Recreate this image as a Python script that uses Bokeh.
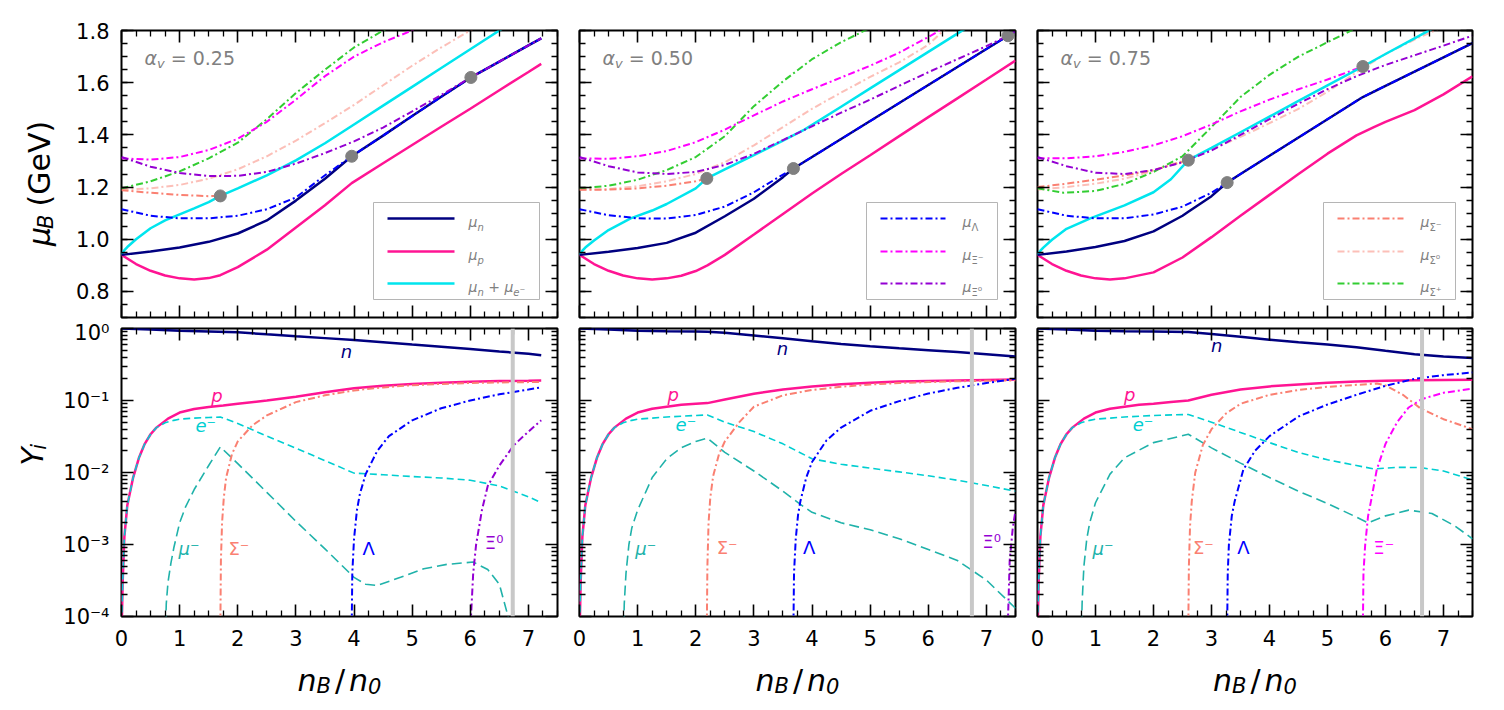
import numpy as np
from bokeh.plotting import figure
from bokeh.models import (Range1d, LinearAxis, LogAxis, Label, FixedTicker,
                          PrintfTickFormatter, CustomJSTickFormatter, Span,
                          CustomLabelingPolicy)
from bokeh.layouts import column, row
from bokeh.embed import file_html
from bokeh.resources import INLINE

# ------------------------------------------------------------------ data
alpha_v = ["0.25", "0.50", "0.75"]
x_ticks = [0, 1, 2, 3, 4, 5, 6, 7]
mu_ticks = [0.8, 1.0, 1.2, 1.4, 1.6, 1.8]
y_ticks = [1e-4, 1e-3, 1e-2, 1e-1, 1.0]

# ---- alpha_v = 0.25 : chemical potentials (GeV)
mun_x_a = [0, 0.5, 1, 1.5, 2, 2.5, 3, 3.5, 3.96, 4.5, 5, 5.5, 6.01, 6.5, 7, 7.22]
mun_y_a = [0.94, 0.953, 0.968, 0.99, 1.022, 1.072, 1.148, 1.232, 1.318, 1.397, 1.472, 1.546, 1.62, 1.681, 1.743, 1.77]
mup_x_a = [0, 0.25, 0.5, 0.75, 1, 1.25, 1.5, 1.7, 2, 2.5, 3, 3.5, 3.96, 4.5, 5, 5.5, 6, 6.5, 7, 7.22]
mup_y_a = [0.94, 0.905, 0.879, 0.861, 0.85, 0.846, 0.851, 0.862, 0.893, 0.96, 1.045, 1.13, 1.215, 1.291, 1.361, 1.431, 1.5, 1.571, 1.641, 1.672]
mune_x_a = [0, 0.05, 0.1, 0.25, 0.5, 0.75, 1, 1.25, 1.5, 1.7, 2, 2.5, 3, 3.5, 4, 4.5, 5, 5.5, 6, 6.5, 7, 7.22]
mune_y_a = [0.94, 0.958, 0.97, 1.0, 1.042, 1.072, 1.095, 1.118, 1.142, 1.166, 1.195, 1.245, 1.302, 1.368, 1.44, 1.512, 1.584, 1.656, 1.728, 1.8, 1.87, 1.9]
mulam_x_a = [0, 0.5, 1, 1.5, 2, 2.5, 3, 3.5, 3.96]
mulam_y_a = [1.115, 1.09, 1.08, 1.08, 1.09, 1.115, 1.16, 1.245, 1.318]
muxim_x_a = [0, 0.5, 1, 1.5, 2, 2.5, 3, 3.5, 4, 4.5, 5, 5.5]
muxim_y_a = [1.31, 1.305, 1.315, 1.342, 1.385, 1.45, 1.535, 1.625, 1.7, 1.755, 1.8, 1.85]
muxi0_x_a = [0, 0.5, 1, 1.5, 2, 2.5, 3, 3.5, 4, 4.5, 5, 5.5, 6.01]
muxi0_y_a = [1.315, 1.278, 1.254, 1.242, 1.243, 1.258, 1.29, 1.33, 1.375, 1.428, 1.49, 1.553, 1.62]
musm_x_a = [0, 0.5, 1, 1.5, 1.7]
musm_y_a = [1.188, 1.178, 1.17, 1.165, 1.166]
mus0_x_a = [0, 0.5, 1, 1.5, 2, 2.5, 3, 3.5, 4, 4.5, 5, 5.5, 6, 6.5]
mus0_y_a = [1.19, 1.195, 1.208, 1.232, 1.268, 1.318, 1.378, 1.445, 1.515, 1.59, 1.665, 1.735, 1.8, 1.86]
musp_x_a = [0, 0.5, 1, 1.5, 2, 2.5, 3, 3.5, 4, 4.5, 5]
musp_y_a = [1.195, 1.222, 1.26, 1.31, 1.37, 1.46, 1.56, 1.65, 1.735, 1.8, 1.86]
onset_x_a = [1.70, 3.96, 6.01]
onset_y_a = [1.166, 1.318, 1.62]

# ---- alpha_v = 0.50
mun_x_b = [0, 0.5, 1, 1.5, 2, 2.5, 3, 3.5, 3.68, 4, 4.5, 5, 5.5, 6, 6.5, 7, 7.37, 7.5]
mun_y_b = [0.94, 0.952, 0.966, 0.986, 1.025, 1.088, 1.155, 1.238, 1.271, 1.315, 1.384, 1.453, 1.522, 1.591, 1.66, 1.729, 1.78, 1.798]
mup_x_b = [0, 0.25, 0.5, 0.75, 1, 1.25, 1.5, 1.75, 2, 2.2, 2.5, 3, 3.5, 4, 4.5, 5, 5.5, 6, 6.5, 7, 7.5]
mup_y_b = [0.94, 0.905, 0.879, 0.861, 0.85, 0.846, 0.85, 0.86, 0.878, 0.9, 0.94, 1.018, 1.097, 1.175, 1.25, 1.322, 1.395, 1.468, 1.54, 1.612, 1.685]
mune_x_b = [0, 0.05, 0.1, 0.25, 0.5, 0.88, 1.25, 1.5, 2, 2.19, 2.5, 3, 3.5, 3.87, 4.5, 5, 5.5, 6, 6.5, 7, 7.5]
mune_y_b = [0.94, 0.956, 0.968, 0.995, 1.035, 1.08, 1.11, 1.135, 1.195, 1.233, 1.268, 1.322, 1.378, 1.42, 1.508, 1.578, 1.648, 1.718, 1.788, 1.858, 1.928]
mulam_x_b = [0, 0.5, 1, 1.5, 2, 2.5, 3, 3.5, 3.68]
mulam_y_b = [1.115, 1.092, 1.08, 1.079, 1.093, 1.125, 1.18, 1.248, 1.271]
muxim_x_b = [0, 0.5, 1, 1.5, 2, 2.5, 3, 3.5, 4, 4.5, 5, 5.5, 6, 6.5]
muxim_y_b = [1.31, 1.308, 1.318, 1.338, 1.372, 1.42, 1.475, 1.528, 1.575, 1.62, 1.665, 1.715, 1.775, 1.84]
muxi0_x_b = [0, 0.5, 1, 1.5, 2, 2.5, 3, 3.5, 4, 4.5, 5, 5.5, 6, 6.5, 7, 7.37]
muxi0_y_b = [1.315, 1.28, 1.256, 1.25, 1.258, 1.285, 1.327, 1.38, 1.433, 1.485, 1.535, 1.588, 1.64, 1.69, 1.74, 1.78]
musm_x_b = [0, 0.5, 1, 1.5, 2, 2.19]
musm_y_b = [1.19, 1.19, 1.195, 1.205, 1.222, 1.233]
mus0_x_b = [0, 0.5, 1, 1.5, 2, 2.5, 3, 3.5, 4, 4.5, 5, 5.5, 6, 6.5]
mus0_y_b = [1.19, 1.192, 1.203, 1.222, 1.25, 1.295, 1.36, 1.43, 1.5, 1.562, 1.622, 1.678, 1.745, 1.85]
musp_x_b = [0, 0.5, 1, 1.5, 2, 2.5, 3, 3.5, 4, 4.5, 5]
musp_y_b = [1.195, 1.205, 1.228, 1.265, 1.315, 1.395, 1.51, 1.605, 1.69, 1.755, 1.81]
onset_x_b = [2.19, 3.68, 7.37]
onset_y_b = [1.233, 1.271, 1.78]

# ---- alpha_v = 0.75
mun_x_c = [0, 0.5, 1, 1.5, 2, 2.5, 2.6, 3, 3.27, 3.5, 4, 4.5, 5, 5.5, 5.61, 6, 6.5, 7, 7.5]
mun_y_c = [0.94, 0.953, 0.97, 0.993, 1.03, 1.09, 1.105, 1.165, 1.217, 1.25, 1.32, 1.39, 1.46, 1.53, 1.545, 1.588, 1.642, 1.697, 1.752]
mup_x_c = [0, 0.25, 0.5, 0.75, 1, 1.25, 1.5, 2, 2.5, 3, 3.5, 4, 4.5, 5, 5.5, 5.8, 6, 6.5, 7, 7.5]
mup_y_c = [0.94, 0.905, 0.879, 0.861, 0.85, 0.846, 0.85, 0.873, 0.93, 1.008, 1.09, 1.17, 1.25, 1.328, 1.398, 1.43, 1.45, 1.495, 1.555, 1.624]
mune_x_c = [0, 0.05, 0.1, 0.25, 0.5, 0.91, 1.5, 2, 2.3, 2.6, 3, 3.5, 4, 4.5, 5, 5.61, 6, 6.5, 7, 7.5]
mune_y_c = [0.94, 0.956, 0.968, 0.998, 1.04, 1.08, 1.13, 1.18, 1.23, 1.303, 1.35, 1.41, 1.47, 1.53, 1.59, 1.662, 1.71, 1.77, 1.83, 1.89]
mulam_x_c = [0, 0.5, 1, 1.5, 2, 2.5, 3, 3.27]
mulam_y_c = [1.115, 1.09, 1.08, 1.08, 1.095, 1.125, 1.178, 1.217]
muxim_x_c = [0, 0.5, 1, 1.5, 2, 2.5, 3, 3.5, 4, 4.5, 5, 5.61]
muxim_y_c = [1.31, 1.31, 1.318, 1.335, 1.36, 1.395, 1.44, 1.49, 1.535, 1.575, 1.612, 1.662]
muxi0_x_c = [0, 0.5, 1, 1.5, 2, 2.5, 3, 3.5, 4, 4.5, 5, 5.5, 6, 6.5, 7, 7.5]
muxi0_y_c = [1.315, 1.28, 1.255, 1.25, 1.265, 1.295, 1.34, 1.4, 1.46, 1.52, 1.575, 1.625, 1.668, 1.705, 1.742, 1.78]
musm_x_c = [0, 0.5, 1, 1.5, 2, 2.6]
musm_y_c = [1.2, 1.213, 1.228, 1.245, 1.265, 1.303]
mus0_x_c = [0, 0.5, 1, 1.5, 2, 2.5, 3, 3.5, 4, 4.5, 5, 5.5, 6, 6.5, 7]
mus0_y_c = [1.19, 1.2, 1.213, 1.232, 1.262, 1.3, 1.345, 1.392, 1.445, 1.5, 1.565, 1.64, 1.71, 1.765, 1.815]
musp_x_c = [0, 0.45, 1, 1.5, 2, 2.5, 3, 3.5, 4, 4.5, 5, 5.5]
musp_y_c = [1.195, 1.178, 1.185, 1.212, 1.258, 1.318, 1.43, 1.545, 1.63, 1.7, 1.755, 1.81]
onset_x_c = [2.6, 3.27, 5.61]
onset_y_c = [1.303, 1.217, 1.662]

# ---- particle fractions Y_i, alpha_v = 0.25
Yn_x_a = [0, 0.5, 1, 1.5, 2, 2.5, 3, 3.5, 4, 4.5, 5, 5.5, 6, 6.5, 7, 7.22]
Yn_y_a = [1.0, 0.965, 0.93, 0.91, 0.885, 0.83, 0.78, 0.735, 0.69, 0.645, 0.6, 0.56, 0.52, 0.48, 0.445, 0.425]
Yp_x_a = [0.005, 0.02, 0.05, 0.1, 0.2, 0.3, 0.4, 0.5, 0.6, 0.8, 1, 1.25, 1.5, 1.75, 2, 2.5, 3, 3.5, 4, 4.5, 5, 5.5, 6, 6.5, 7, 7.22]
Yp_y_a = [8e-5, 3e-4, 1.3e-3, 3.5e-3, 8.5e-3, 0.016, 0.025, 0.034, 0.042, 0.056, 0.068, 0.076, 0.081, 0.085, 0.09, 0.1, 0.113, 0.13, 0.148, 0.16, 0.17, 0.177, 0.182, 0.186, 0.188, 0.189]
Ye_x_a = [0.005, 0.02, 0.05, 0.1, 0.2, 0.3, 0.4, 0.5, 0.6, 0.75, 0.9, 1, 1.25, 1.5, 1.7, 2, 2.5, 3, 3.5, 4, 4.5, 5, 5.5, 6, 6.5, 7, 7.22]
Ye_y_a = [8e-5, 3e-4, 1.3e-3, 3.5e-3, 8.5e-3, 0.016, 0.025, 0.034, 0.042, 0.049, 0.053, 0.055, 0.057, 0.058, 0.059, 0.048, 0.032, 0.0218, 0.0146, 0.0098, 0.0093, 0.0088, 0.0084, 0.0078, 0.0065, 0.0046, 0.0038]
Ymu_x_a = [0.75, 0.755, 0.77, 0.8, 0.85, 0.9, 1, 1.1, 1.25, 1.5, 1.7, 2, 2.5, 3, 3.5, 4, 4.2, 4.4, 4.8, 5.2, 5.6, 6.05, 6.3, 6.5, 6.65, 6.7]
Ymu_y_a = [1e-6, 5e-5, 1.5e-4, 3e-4, 5.5e-4, 9e-4, 2e-3, 3.3e-3, 5.8e-3, 0.0125, 0.0226, 0.0133, 0.0053, 0.0021, 8.7e-4, 3.5e-4, 2.8e-4, 2.7e-4, 3.5e-4, 4.6e-4, 5.3e-4, 5.7e-4, 4.5e-4, 2.8e-4, 1e-4, 5e-5]
Ysm_x_a = [1.7, 1.702, 1.71, 1.73, 1.76, 1.8, 1.9, 2, 2.25, 2.5, 3, 3.5, 4, 4.5, 5, 5.5, 6, 6.5, 7, 7.22]
Ysm_y_a = [1e-6, 1e-4, 6e-4, 2e-3, 4.5e-3, 8.5e-3, 0.018, 0.027, 0.045, 0.062, 0.095, 0.118, 0.138, 0.152, 0.163, 0.17, 0.175, 0.178, 0.18, 0.181]
Ylam_x_a = [3.96, 3.962, 3.97, 4, 4.05, 4.1, 4.2, 4.4, 4.6, 5, 5.5, 6, 6.5, 7, 7.22]
Ylam_y_a = [1e-6, 1e-4, 4e-4, 1.2e-3, 3e-3, 5e-3, 9.5e-3, 0.02, 0.032, 0.053, 0.078, 0.1, 0.122, 0.142, 0.152]
Yxi_x_a = [6.01, 6.012, 6.05, 6.1, 6.2, 6.3, 6.5, 6.75, 7, 7.22]
Yxi_y_a = [1e-6, 1e-4, 4e-4, 1e-3, 3e-3, 6.5e-3, 0.0125, 0.024, 0.037, 0.053]
nmax_a = 6.73

# ---- alpha_v = 0.50
Yn_x_b = [0, 0.5, 1, 1.5, 2, 2.2, 2.5, 3, 3.5, 4, 4.5, 5, 5.5, 6, 6.5, 7, 7.5]
Yn_y_b = [1.0, 0.965, 0.93, 0.915, 0.905, 0.9, 0.87, 0.8, 0.73, 0.665, 0.61, 0.565, 0.53, 0.5, 0.47, 0.44, 0.41]
Yp_x_b = [0.005, 0.02, 0.05, 0.1, 0.2, 0.3, 0.4, 0.5, 0.6, 0.8, 1, 1.25, 1.5, 1.75, 2, 2.2, 2.5, 3, 3.5, 4, 4.5, 5, 5.5, 6, 6.5, 7, 7.5]
Yp_y_b = [8e-5, 3e-4, 1.3e-3, 3.5e-3, 8.5e-3, 0.016, 0.025, 0.034, 0.042, 0.056, 0.068, 0.077, 0.082, 0.087, 0.09, 0.092, 0.103, 0.124, 0.142, 0.157, 0.168, 0.177, 0.183, 0.187, 0.19, 0.193, 0.195]
Ye_x_b = [0.005, 0.02, 0.05, 0.1, 0.2, 0.3, 0.4, 0.5, 0.6, 0.75, 0.9, 1, 1.5, 2, 2.2, 2.5, 3, 3.5, 4, 4.5, 5, 5.5, 6, 6.5, 7, 7.5]
Ye_y_b = [8e-5, 3e-4, 1.3e-3, 3.5e-3, 8.5e-3, 0.016, 0.025, 0.034, 0.042, 0.049, 0.053, 0.055, 0.059, 0.062, 0.063, 0.05, 0.037, 0.025, 0.0155, 0.013, 0.0115, 0.0102, 0.009, 0.0078, 0.0066, 0.0055]
Ymu_x_b = [0.75, 0.755, 0.77, 0.8, 0.85, 0.9, 1, 1.25, 1.5, 1.75, 2, 2.2, 2.5, 3, 3.5, 3.8, 4, 4.5, 5, 5.5, 6, 6.5, 7, 7.5]
Ymu_y_b = [1e-6, 5e-5, 1.5e-4, 4e-4, 1e-3, 1.7e-3, 3e-3, 8.5e-3, 0.0155, 0.022, 0.027, 0.03, 0.019, 0.0105, 0.0055, 0.0036, 0.0028, 0.002, 0.0016, 0.0012, 8.5e-4, 6e-4, 3.2e-4, 1.3e-4]
Ysm_x_b = [2.19, 2.192, 2.2, 2.22, 2.25, 2.3, 2.4, 2.5, 2.75, 3, 3.5, 4, 4.5, 5, 5.5, 6, 6.5, 7, 7.5]
Ysm_y_b = [1e-6, 1e-4, 5e-4, 2e-3, 4.5e-3, 9e-3, 0.018, 0.027, 0.05, 0.082, 0.118, 0.14, 0.155, 0.167, 0.175, 0.18, 0.185, 0.188, 0.19]
Ylam_x_b = [3.68, 3.682, 3.69, 3.72, 3.76, 3.8, 3.9, 4, 4.25, 4.5, 5, 5.5, 6, 6.5, 7, 7.5]
Ylam_y_b = [1e-6, 1e-4, 4e-4, 1.2e-3, 2.6e-3, 4e-3, 8.5e-3, 0.014, 0.028, 0.042, 0.072, 0.098, 0.125, 0.15, 0.175, 0.2]
Yxi_x_b = [7.37, 7.372, 7.4, 7.45, 7.5]
Yxi_y_b = [1e-6, 1e-4, 6e-4, 1.6e-3, 3e-3]
nmax_b = 6.75

# ---- alpha_v = 0.75
Yn_x_c = [0, 0.5, 1, 1.5, 2, 2.6, 3, 3.5, 4, 4.5, 5, 5.5, 6, 6.5, 7, 7.5]
Yn_y_c = [1.0, 0.965, 0.93, 0.915, 0.905, 0.895, 0.84, 0.77, 0.7, 0.645, 0.6, 0.55, 0.49, 0.44, 0.41, 0.39]
Yp_x_c = [0.005, 0.02, 0.05, 0.1, 0.2, 0.3, 0.4, 0.5, 0.6, 0.8, 1, 1.25, 1.5, 1.75, 2, 2.3, 2.6, 3, 3.5, 4, 4.5, 5, 5.5, 6, 6.5, 7, 7.5]
Yp_y_c = [8e-5, 3e-4, 1.3e-3, 3.5e-3, 8.5e-3, 0.016, 0.025, 0.034, 0.042, 0.056, 0.068, 0.077, 0.082, 0.087, 0.09, 0.095, 0.1, 0.12, 0.142, 0.157, 0.167, 0.176, 0.183, 0.188, 0.191, 0.193, 0.194]
Ye_x_c = [0.005, 0.02, 0.05, 0.1, 0.2, 0.3, 0.4, 0.5, 0.6, 0.75, 0.9, 1, 1.5, 2, 2.6, 3, 3.5, 4, 4.5, 5, 5.5, 5.8, 6.2, 6.6, 7, 7.5]
Ye_y_c = [8e-5, 3e-4, 1.3e-3, 3.5e-3, 8.5e-3, 0.016, 0.025, 0.034, 0.042, 0.049, 0.053, 0.055, 0.059, 0.062, 0.064, 0.05, 0.036, 0.026, 0.019, 0.015, 0.0125, 0.0112, 0.0118, 0.0117, 0.0105, 0.0079]
Ymu_x_c = [0.75, 0.755, 0.77, 0.8, 0.85, 0.9, 1, 1.25, 1.5, 2, 2.6, 3, 3.5, 4, 4.5, 5, 5.5, 5.7, 6, 6.4, 6.8, 7.2, 7.5]
Ymu_y_c = [1e-6, 5e-5, 1.6e-4, 5e-4, 1.2e-3, 2e-3, 3.8e-3, 9.5e-3, 0.016, 0.026, 0.034, 0.022, 0.0135, 0.0085, 0.0055, 0.0037, 0.0024, 0.002, 0.0025, 0.003, 0.0027, 0.0018, 0.0012]
Ysm_x_c = [2.6, 2.602, 2.61, 2.63, 2.66, 2.72, 2.85, 3, 3.25, 3.5, 4, 4.5, 5, 5.5, 5.85, 6, 6.3, 6.6, 7, 7.5]
Ysm_y_c = [1e-6, 1e-4, 5e-4, 1.8e-3, 4e-3, 0.01, 0.024, 0.04, 0.066, 0.09, 0.12, 0.14, 0.155, 0.165, 0.172, 0.162, 0.12, 0.078, 0.055, 0.04]
Ylam_x_c = [3.27, 3.272, 3.28, 3.3, 3.35, 3.4, 3.55, 3.75, 4, 4.5, 5, 5.5, 6, 6.5, 7, 7.5]
Ylam_y_c = [1e-6, 1e-4, 4e-4, 1e-3, 2.5e-3, 4e-3, 0.011, 0.02, 0.032, 0.06, 0.088, 0.12, 0.16, 0.2, 0.225, 0.245]
Yxi_x_c = [5.61, 5.612, 5.62, 5.65, 5.7, 5.75, 5.85, 6, 6.2, 6.4, 6.63, 7, 7.5]
Yxi_y_c = [1e-6, 1e-4, 4e-4, 1e-3, 2.5e-3, 4e-3, 0.011, 0.025, 0.05, 0.08, 0.105, 0.128, 0.146]
nmax_c = 6.63

# ------------------------------------------------------------------ tables built from the lists
TOP = [
    dict(mun=(mun_x_a, mun_y_a), mup=(mup_x_a, mup_y_a), mune=(mune_x_a, mune_y_a),
         lam=(mulam_x_a, mulam_y_a), xim=(muxim_x_a, muxim_y_a), xi0=(muxi0_x_a, muxi0_y_a),
         sm=(musm_x_a, musm_y_a), s0=(mus0_x_a, mus0_y_a), sp=(musp_x_a, musp_y_a),
         onset=(onset_x_a, onset_y_a)),
    dict(mun=(mun_x_b, mun_y_b), mup=(mup_x_b, mup_y_b), mune=(mune_x_b, mune_y_b),
         lam=(mulam_x_b, mulam_y_b), xim=(muxim_x_b, muxim_y_b), xi0=(muxi0_x_b, muxi0_y_b),
         sm=(musm_x_b, musm_y_b), s0=(mus0_x_b, mus0_y_b), sp=(musp_x_b, musp_y_b),
         onset=(onset_x_b, onset_y_b)),
    dict(mun=(mun_x_c, mun_y_c), mup=(mup_x_c, mup_y_c), mune=(mune_x_c, mune_y_c),
         lam=(mulam_x_c, mulam_y_c), xim=(muxim_x_c, muxim_y_c), xi0=(muxi0_x_c, muxi0_y_c),
         sm=(musm_x_c, musm_y_c), s0=(mus0_x_c, mus0_y_c), sp=(musp_x_c, musp_y_c),
         onset=(onset_x_c, onset_y_c)),
]
BOT = [
    dict(n=(Yn_x_a, Yn_y_a), p=(Yp_x_a, Yp_y_a), e=(Ye_x_a, Ye_y_a), mu=(Ymu_x_a, Ymu_y_a),
         sm=(Ysm_x_a, Ysm_y_a), lam=(Ylam_x_a, Ylam_y_a), xi=(Yxi_x_a, Yxi_y_a), nmax=nmax_a),
    dict(n=(Yn_x_b, Yn_y_b), p=(Yp_x_b, Yp_y_b), e=(Ye_x_b, Ye_y_b), mu=(Ymu_x_b, Ymu_y_b),
         sm=(Ysm_x_b, Ysm_y_b), lam=(Ylam_x_b, Ylam_y_b), xi=(Yxi_x_b, Yxi_y_b), nmax=nmax_b),
    dict(n=(Yn_x_c, Yn_y_c), p=(Yp_x_c, Yp_y_c), e=(Ye_x_c, Ye_y_c), mu=(Ymu_x_c, Ymu_y_c),
         sm=(Ysm_x_c, Ysm_y_c), lam=(Ylam_x_c, Ylam_y_c), xi=(Yxi_x_c, Yxi_y_c), nmax=nmax_c),
]

# ------------------------------------------------------------------ layout / style
FONT = "DejaVu Sans"
NB = "\u00a0"
MID = 0.346          # (ascent - descent) / 2 of DejaVu Sans, in em
TITLE_W = 60
FW = [436, 436, 435]
BL = [61, 11, 11]
BR = [11, 11, 17]
FH_T, FH_B = 287, 288
BT_T, BB_T = 30, 3
BT_B, BB_B = 8, 38
XT_H = 52
XT_BASE = 36
XR = (0.0, 7.5)
YR_T = (0.7, 1.8)
YR_B = (1e-4, 1.0)

DD = "7 3 2 3"
CYAN_TOP = "#00e5ee"
STY = {
    "mun": ("navy", 2.5, "solid", 1.0),
    "mup": ("deeppink", 2.5, "solid", 1.0),
    "mune": (CYAN_TOP, 2.5, "solid", 1.0),
    "lam": ("blue", 2.0, DD, 1.0),
    "xim": ("magenta", 2.0, DD, 1.0),
    "xi0": ("darkviolet", 2.0, DD, 1.0),
    "sm": ("salmon", 2.0, DD, 1.0),
    "s0": ("salmon", 2.0, DD, 0.5),
    "sp": ("limegreen", 2.0, DD, 1.0),
}

x_minor = [round(0.25 * k, 2) for k in range(31) if k % 4]
mu_minor = [round(0.7 + 0.05 * k, 2) for k in range(23)]
y_minor = [m * 10.0 ** e for e in range(-4, 0) for m in range(2, 10)]

EM = {"μ": 0.636, "n": 0.634, "p": 0.635, "e": 0.615, " ": 0.318, NB: 0.318, "+": 0.838,
      "Λ": 0.684, "Ξ": 0.632, "Σ": 0.632, "⁻": 0.5, "⁰": 0.4, "⁺": 0.5, "=": 0.838,
      "α": 0.659, "v": 0.592, "B": 0.686, "0": 0.636, ".": 0.318, "2": 0.636, "5": 0.636,
      "7": 0.636, "/": 0.337, "i": 0.278, "Y": 0.611, "(": 0.39, ")": 0.39, "G": 0.775,
      "V": 0.684}


def tw(s, size):
    return sum(EM.get(c, 0.6) for c in s) * size


class Frame:
    """maps pixel offsets (from the frame's left / top edge) to data coordinates"""
    def __init__(self, fw, fh, xr, yr, log=False):
        self.fw, self.fh, self.xr, self.yr, self.log = fw, fh, xr, yr, log

    def X(self, px):
        return self.xr[0] + px / self.fw * (self.xr[1] - self.xr[0])

    def Y(self, py):
        if self.log:
            a, b = np.log10(self.yr[0]), np.log10(self.yr[1])
            return 10 ** (b - py / self.fh * (b - a))
        return self.yr[1] - py / self.fh * (self.yr[1] - self.yr[0])


def parts_width(parts):
    return sum((tw(t, s) if t is not None else s) for t, s, _, _ in parts)


def put_text(p, fr, x0, y0, parts, color, angle=0.0):
    """(x0, y0): start of the baseline in pixel offsets; each piece is anchored
    at the middle of its em box so that pieces of different sizes share the baseline"""
    adv = 0.0
    for text, size, style, drop in parts:
        if text is None:
            adv += size
            continue
        if angle == 0:
            x, y = fr.X(x0 + adv), fr.Y(y0 + drop - MID * size)
        else:
            x, y = fr.X(x0 + drop - MID * size), fr.Y(y0 - adv)
        p.add_layout(Label(x=x, y=y, text=text, text_font=FONT, text_font_size=f"{size}px",
                           text_font_style=style, text_color=color, text_align="left",
                           text_baseline="middle", angle=angle))
        adv += tw(text, size)


def style_axis(ax, labels, standoff=12):
    ax.axis_line_color = None
    ax.major_tick_in = 12
    ax.major_tick_out = 0
    ax.minor_tick_in = 6
    ax.minor_tick_out = 0
    ax.major_tick_line_width = 1.6
    ax.minor_tick_line_width = 1.3
    ax.major_tick_line_color = "black"
    ax.minor_tick_line_color = "black"
    ax.axis_label = None
    if labels:
        ax.major_label_text_font = FONT
        ax.major_label_text_font_size = "21px"
        ax.major_label_text_color = "black"
        ax.major_label_standoff = standoff
    else:
        ax.formatter = CustomJSTickFormatter(code="return '';")
        ax.major_label_policy = CustomLabelingPolicy(
            code="for (const i of [...indices]) { indices.unset(i) }")
        ax.major_label_text_font_size = "1px"
        ax.major_label_standoff = 0


LOGFMT = """
const e = Math.round(Math.log10(tick));
const sup = {"-": "⁻", "0": "⁰", "1": "¹", "2": "²", "3": "³", "4": "⁴"};
return "10" + String(e).split("").map(c => sup[c]).join("");
"""


def make_fig(i, top):
    fh = FH_T if top else FH_B
    bt, bb = (BT_T, BB_T) if top else (BT_B, BB_B)
    p = figure(width=BL[i] + FW[i] + BR[i], height=bt + fh + bb, title=None,
               x_range=Range1d(*XR), y_range=Range1d(*(YR_T if top else YR_B)),
               y_axis_type="linear" if top else "log",
               output_backend="svg", toolbar_location=None,
               min_border_left=BL[i], min_border_right=BR[i],
               min_border_top=bt, min_border_bottom=bb)
    p.xgrid.visible = False
    p.ygrid.visible = False
    p.outline_line_color = "black"
    p.outline_line_width = 2
    p.outline_line_alpha = 1.0
    p.background_fill_color = "white"
    p.border_fill_color = "white"

    xt = FixedTicker(ticks=x_ticks, minor_ticks=x_minor)
    if top:
        yt = FixedTicker(ticks=mu_ticks, minor_ticks=mu_minor)
    else:
        yt = FixedTicker(ticks=y_ticks, minor_ticks=y_minor)

    p.xaxis.ticker = xt
    p.yaxis.ticker = yt
    if i == 0:
        p.yaxis.formatter = PrintfTickFormatter(format="%.1f") if top else CustomJSTickFormatter(code=LOGFMT)
    style_axis(p.xaxis[0], labels=not top, standoff=13)
    style_axis(p.yaxis[0], labels=(i == 0), standoff=12)

    ax_top = LinearAxis(ticker=xt)
    style_axis(ax_top, labels=False)
    p.add_layout(ax_top, "above")
    ax_right = LinearAxis(ticker=yt) if top else LogAxis(ticker=yt)
    style_axis(ax_right, labels=False)
    p.add_layout(ax_right, "right")
    return p


def title_fig(w, h):
    f = figure(width=w, height=h, x_range=Range1d(0, w), y_range=Range1d(0, h), title=None,
               output_backend="svg", toolbar_location=None,
               x_axis_location=None, y_axis_location=None,
               min_border_left=0, min_border_right=0, min_border_top=0, min_border_bottom=0)
    f.xgrid.visible = False
    f.ygrid.visible = False
    f.outline_line_color = None
    f.background_fill_color = "white"
    f.border_fill_color = "white"
    return f, Frame(w, h, (0, w), (0, h))


def draw(p, xy, key):
    c, w, dash, a = STY[key]
    p.line(xy[0], xy[1], line_color=c, line_width=w, line_dash=dash, line_alpha=a)


def continue_on(xy, base):
    xs, ys = list(xy[0]), list(xy[1])
    end = xs[-1]
    for a, b in zip(base[0], base[1]):
        if a > end + 1e-9:
            xs.append(a)
            ys.append(b)
    return xs, ys


LEGENDS = [
    dict(box=(252, 418), line=(266, 333), text=347,
         items=[("mun", [("μ", 14, "italic", 0), ("n", 10, "italic", 4)]),
                ("mup", [("μ", 14, "italic", 0), ("p", 10, "italic", 4)]),
                ("mune", [("μ", 14, "italic", 0), ("n", 10, "italic", 4), (NB + "+" + NB, 14, "normal", 0),
                          ("μ", 14, "italic", 0), ("e", 10, "italic", 4), ("⁻", 11, "normal", 4)])]),
    dict(box=(287, 418), line=(301, 366), text=383,
         items=[("lam", [("μ", 14, "italic", 0), ("Λ", 10, "normal", 4)]),
                ("xim", [("μ", 14, "italic", 0), ("Ξ", 10, "normal", 4), ("⁻", 11, "normal", 4)]),
                ("xi0", [("μ", 14, "italic", 0), ("Ξ", 10, "normal", 4), ("⁰", 11, "normal", 4)])]),
    dict(box=(286, 418), line=(300, 366), text=383,
         items=[("sm", [("μ", 14, "italic", 0), ("Σ", 10, "normal", 4), ("⁻", 11, "normal", 4)]),
                ("s0", [("μ", 14, "italic", 0), ("Σ", 10, "normal", 4), ("⁰", 11, "normal", 4)]),
                ("sp", [("μ", 14, "italic", 0), ("Σ", 10, "normal", 4), ("⁺", 11, "normal", 4)])]),
]
LEG_ROWS = [188, 221, 253]
LEG_BOX_Y = (172, 269)

# label anchors (data coordinates) for the particle names in the lower panels
BOT_LABELS = [
    [("n", "navy", "italic", 3.87, 0.474), ("p", "deeppink", "italic", 1.64, 0.118),
     ("e⁻", "darkturquoise", "italic", 1.45, 0.045), ("μ⁻", "lightseagreen", "italic", 1.16, 8.7e-4),
     ("Σ⁻", "salmon", "normal", 2.02, 8.7e-4), ("Λ", "blue", "normal", 4.25, 8.7e-4),
     ("Ξ⁰", "darkviolet", "normal", 6.41, 1.07e-3)],
    [("n", "navy", "italic", 3.49, 0.52), ("p", "deeppink", "italic", 1.61, 0.12),
     ("e⁻", "darkturquoise", "italic", 1.83, 0.046), ("μ⁻", "lightseagreen", "italic", 1.14, 8.9e-4),
     ("Σ⁻", "salmon", "normal", 2.54, 9.1e-4), ("Λ", "blue", "normal", 3.95, 9.1e-4),
     ("Ξ⁰", "darkviolet", "normal", 7.09, 1.1e-3)],
    [("n", "navy", "italic", 3.09, 0.58), ("p", "deeppink", "italic", 1.59, 0.12),
     ("e⁻", "darkturquoise", "italic", 1.82, 0.046), ("μ⁻", "lightseagreen", "italic", 1.13, 8.9e-4),
     ("Σ⁻", "salmon", "normal", 2.86, 9.1e-4), ("Λ", "blue", "normal", 3.55, 9.1e-4),
     ("Ξ⁻", "magenta", "normal", 5.97, 9.1e-4)],
]
XI_COLOR = ["darkviolet", "darkviolet", "magenta"]

top_figs, bot_figs = [], []
for i in range(3):
    d = TOP[i]
    p = make_fig(i, top=True)
    fr = Frame(FW[i], FH_T, XR, YR_T)
    draw(p, d["s0"], "s0")
    draw(p, d["sp"], "sp")
    draw(p, d["xim"], "xim")
    draw(p, d["sm"], "sm")
    draw(p, d["mup"], "mup")
    draw(p, d["mune"], "mune")
    draw(p, d["mun"], "mun")
    draw(p, continue_on(d["lam"], d["mun"]), "lam")
    draw(p, continue_on(d["xi0"], d["mun"]), "xi0")
    p.scatter(d["onset"][0], d["onset"][1], size=12, fill_color="gray", line_color="gray")

    put_text(p, fr, 23, 34, [("α", 19, "italic", 0), ("v", 13, "italic", 3),
                             (NB + "=" + NB + alpha_v[i], 19, "normal", 0)], "gray")

    lg = LEGENDS[i]
    p.quad(left=[fr.X(lg["box"][0])], right=[fr.X(lg["box"][1])],
           top=[fr.Y(LEG_BOX_Y[0])], bottom=[fr.Y(LEG_BOX_Y[1])],
           fill_color="white", line_color="#b5b5b5", line_width=1)
    for (key, parts), ry in zip(lg["items"], LEG_ROWS):
        c, w, dash, a = STY[key]
        p.line([fr.X(lg["line"][0]), fr.X(lg["line"][1])], [fr.Y(ry), fr.Y(ry)],
               line_color=c, line_width=w, line_dash=dash, line_alpha=a)
        put_text(p, fr, lg["text"], ry + 8, parts, "gray")
    top_figs.append(p)

    b = BOT[i]
    q = make_fig(i, top=False)
    q.line(b["n"][0], b["n"][1], line_color="navy", line_width=2.5)
    q.line(b["p"][0], b["p"][1], line_color="deeppink", line_width=2.5)
    q.line(b["e"][0], b["e"][1], line_color="darkturquoise", line_width=1.6, line_dash="7 4")
    q.line(b["mu"][0], b["mu"][1], line_color="lightseagreen", line_width=1.6, line_dash="10 5")
    q.line(b["sm"][0], b["sm"][1], line_color="salmon", line_width=2.0, line_dash=DD)
    q.line(b["lam"][0], b["lam"][1], line_color="blue", line_width=2.0, line_dash=DD)
    q.line(b["xi"][0], b["xi"][1], line_color=XI_COLOR[i], line_width=2.0, line_dash=DD)
    q.add_layout(Span(location=b["nmax"], dimension="height", line_color="#c8c8c8", line_width=4))
    for text, col, style, lx, ly in BOT_LABELS[i]:
        q.add_layout(Label(x=lx, y=ly, text=text, text_font=FONT, text_font_size="18px",
                           text_font_style=style, text_color=col, text_align="center",
                           text_baseline="middle"))
    bot_figs.append(q)

# ---- axis titles (drawn in their own borderless panels)
H_TOP = BT_T + FH_T + BB_T
H_BOT = BT_B + FH_B + BB_B
yt_top, fr_yt = title_fig(TITLE_W, H_TOP)
parts = [("μ", 30, "italic", 0), ("B", 21, "italic", 4), (NB + "(GeV)", 30, "normal", 0)]
put_text(yt_top, fr_yt, 49, 176 + parts_width(parts) / 2, parts, "black", angle=np.pi / 2)

yt_bot, fr_yb = title_fig(TITLE_W, H_BOT)
parts = [("Y", 30, "italic", 0), ("i", 21, "italic", 4)]
put_text(yt_bot, fr_yb, 42, 147 + parts_width(parts) / 2, parts, "black", angle=np.pi / 2)

total_w = TITLE_W + sum(BL[k] + FW[k] + BR[k] for k in range(3))
xt_fig, fr_xt = title_fig(total_w, XT_H)
parts = [("n", 30, "italic", 0), ("B", 21, "italic", 3), (None, 4, None, None),
         ("/", 30, "normal", 0), (None, 4, None, None), ("n", 30, "italic", 0),
         ("0", 21, "italic", 3)]
left = TITLE_W
for k in range(3):
    cx = left + BL[k] + FW[k] / 2
    put_text(xt_fig, fr_xt, cx - parts_width(parts) / 2, XT_BASE, parts, "black")
    left += BL[k] + FW[k] + BR[k]

layout = column(row(yt_top, *top_figs), row(yt_bot, *bot_figs), xt_fig)
open("out.html", "w").write(file_html(layout, INLINE))
